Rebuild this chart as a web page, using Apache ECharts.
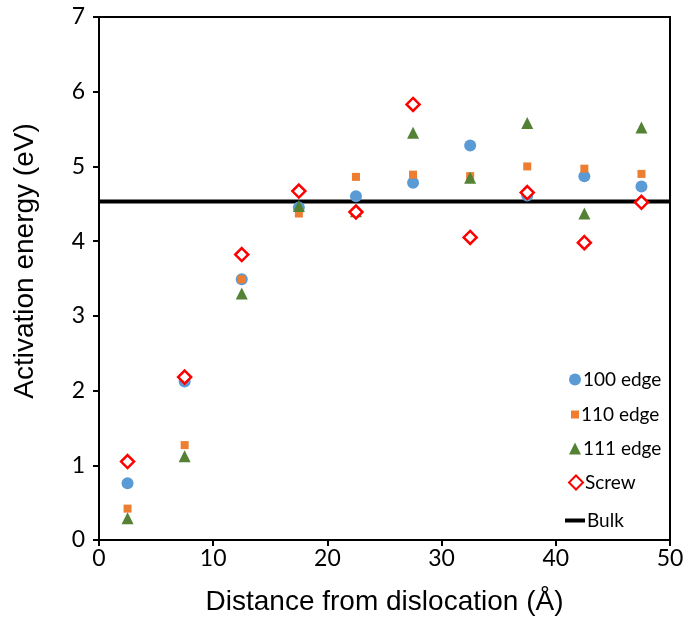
<!DOCTYPE html>
<html>
<head>
<meta charset="utf-8">
<title>Activation energy</title>
<script src="https://cdn.jsdelivr.net/npm/echarts@6/dist/echarts.min.js"></script>
<style>
  html, body { margin: 0; padding: 0; background: #fff; }
  #chart { width: 688px; height: 623px; }
</style>
</head>
<body>
<div id="chart"></div>
<script>
// distances from the dislocation core (Å)
var distances = [2.5, 7.5, 12.5, 17.5, 22.5, 27.5, 32.5, 37.5, 42.5, 47.5];
var edge100 = [0.76, 2.12, 3.49, 4.45, 4.60, 4.78, 5.28, 4.61, 4.87, 4.73];
var edge110 = [0.42, 1.27, 3.49, 4.37, 4.86, 4.89, 4.87, 5.00, 4.97, 4.90];
var edge111 = [0.29, 1.12, 3.30, 4.47, 4.40, 5.45, 4.85, 5.58, 4.37, 5.52];
var screw   = [1.05, 2.18, 3.82, 4.67, 4.39, 5.83, 4.05, 4.65, 3.98, 4.52];
var bulkX = [0, 50];
var bulkY = [4.53, 4.53];

function pairs(xs, ys) {
    return xs.map(function (x, i) { return [x, ys[i]]; });
}

var font = 'Lato';
var nameFont = 'Liberation Sans';
var chart = echarts.init(document.getElementById('chart'));

// one legend per entry so every icon gets its own size
function legendItem(name, top, w, h, left, icon) {
    var lg = {
        data: [name],
        orient: 'vertical',
        left: left,
        top: top,
        itemWidth: w,
        itemHeight: h,
        itemGap: 0,
        textStyle: { fontFamily: font, fontSize: 19, color: '#000', padding: [0, 0, 0, -3] }
    };
    if (icon) lg.icon = icon;
    return lg;
}

var option = {
    animation: false,
    grid: {
        left: 99, right: 18, top: 17, bottom: 83,
        show: true, borderColor: '#000', borderWidth: 2
    },
    legend: [
        legendItem('100 edge', 365, 12, 12, 564),
        legendItem('110 edge', 400, 8, 8, 566),
        legendItem('111 edge', 434, 12, 12, 564),
        legendItem('Screw', 468, 14, 14, 563),
        legendItem('Bulk', 506, 20, 4, 560, 'rect')
    ],
    xAxis: {
        type: 'value',
        min: 0, max: 50, interval: 10,
        name: 'Distance from dislocation (Å)',
        nameLocation: 'middle',
        nameGap: 48,
        nameTextStyle: { fontFamily: nameFont, fontSize: 28, color: '#000' },
        axisLine: { lineStyle: { color: '#000', width: 2 } },
        axisTick: { show: true, length: 6, lineStyle: { color: '#000', width: 2 } },
        axisLabel: { fontFamily: font, fontSize: 23, color: '#000', margin: 7 },
        splitLine: { show: false }
    },
    yAxis: {
        type: 'value',
        min: 0, max: 7, interval: 1,
        name: 'Activation energy (eV)',
        nameLocation: 'middle',
        nameGap: 60,
        nameTextStyle: { fontFamily: nameFont, fontSize: 28, color: '#000', padding: [0, 0, 0, 35] },
        axisLine: { lineStyle: { color: '#000', width: 2 } },
        axisTick: { show: true, length: 6, lineStyle: { color: '#000', width: 2 } },
        axisLabel: { fontFamily: font, fontSize: 23, color: '#000', margin: 14 },
        splitLine: { show: false }
    },
    series: [
        {
            name: 'Bulk', type: 'line', data: pairs(bulkX, bulkY),
            symbol: 'none', z: 1,
            lineStyle: { color: '#000', width: 4 },
            itemStyle: { color: '#000' }
        },
        {
            name: '100 edge', type: 'scatter', data: pairs(distances, edge100),
            symbol: 'circle', symbolSize: 12,
            itemStyle: { color: '#5b9bd5', opacity: 1 }
        },
        {
            name: '110 edge', type: 'scatter', data: pairs(distances, edge110),
            symbol: 'rect', symbolSize: 8,
            itemStyle: { color: '#ed7d31', opacity: 1 }
        },
        {
            name: '111 edge', type: 'scatter', data: pairs(distances, edge111),
            symbol: 'triangle', symbolSize: 12,
            itemStyle: { color: '#548235', opacity: 1 }
        },
        {
            name: 'Screw', type: 'scatter', data: pairs(distances, screw),
            symbol: 'diamond', symbolSize: 13,
            itemStyle: { color: '#fff', borderColor: '#ff0000', borderWidth: 2.5, opacity: 1 }
        }
    ]
};
chart.setOption(option);
</script>
</body>
</html>
